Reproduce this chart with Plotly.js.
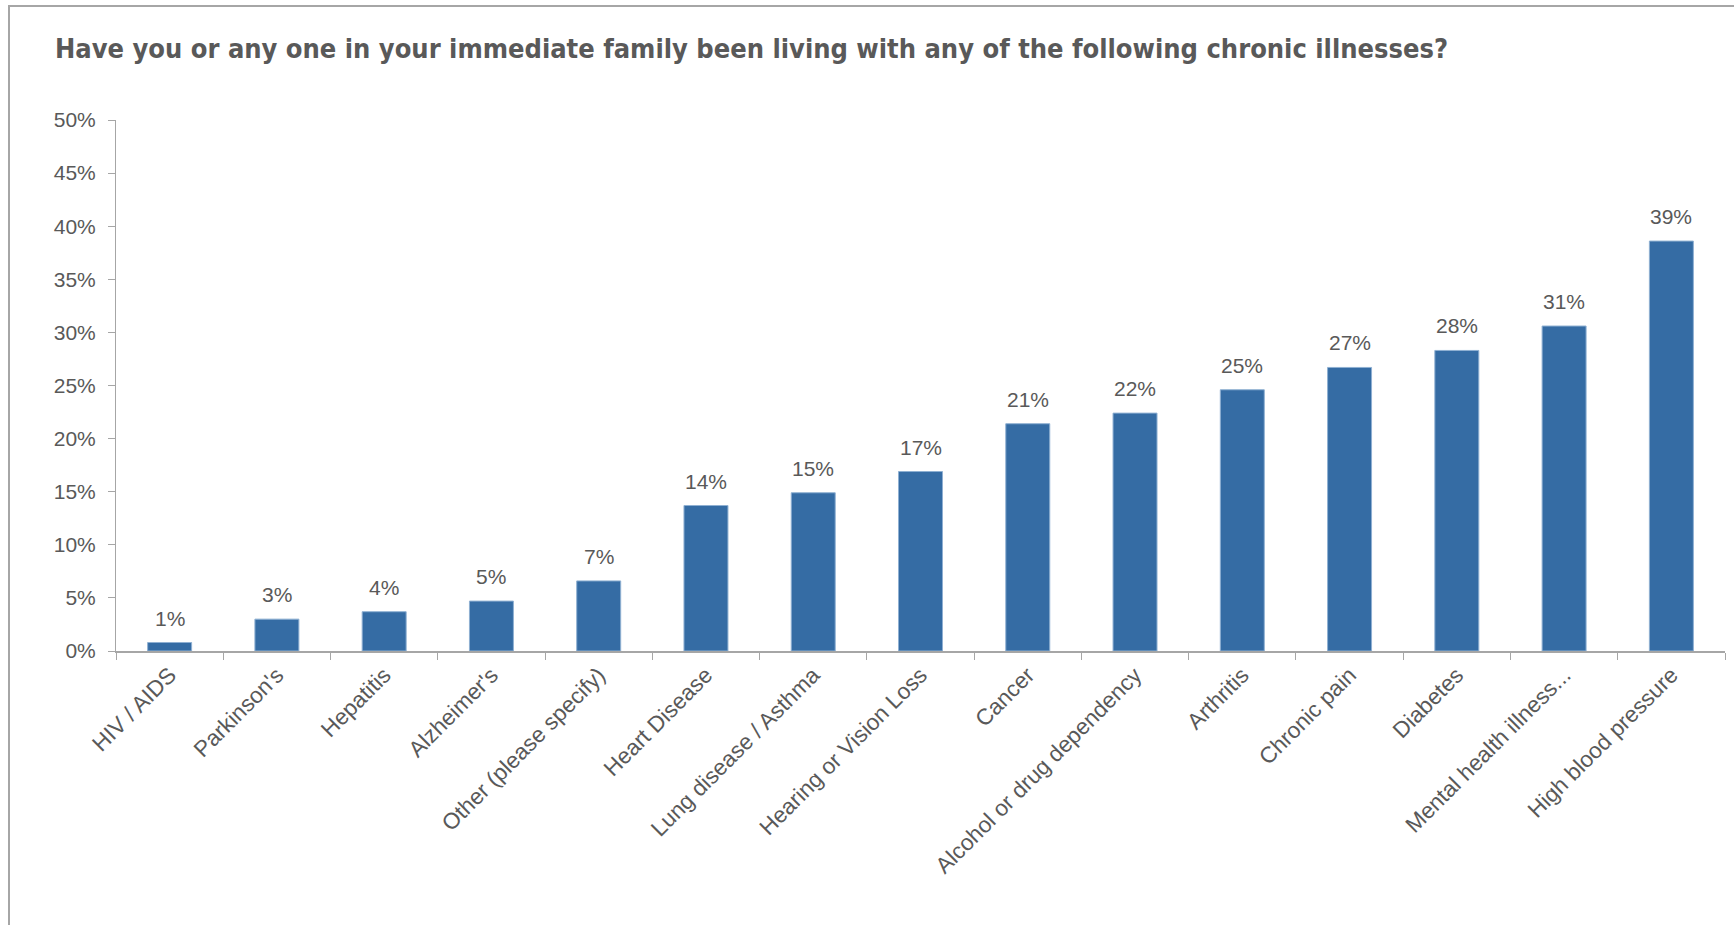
<!DOCTYPE html>
<html>
<head>
<meta charset="utf-8">
<script src="https://cdn.plot.ly/plotly-3.0.1.min.js"></script>
<style>
  html, body { margin: 0; padding: 0; background: #fff; }
  #wrap { position: relative; width: 1734px; height: 925px; overflow: hidden; }
  #chart { position: absolute; left: 0; top: 0; width: 1734px; height: 925px; }
  #frame { position: absolute; left: 8px; top: 5px; width: 1740px; height: 940px;
           border-left: 2px solid #a6a6a6; border-top: 2px solid #a6a6a6; pointer-events: none; }
</style>
</head>
<body>
<div id="wrap">
  <div id="chart"></div>
  <div id="frame"></div>
</div>
<script>
const categories = [
  "HIV / AIDS", "Parkinson's", "Hepatitis", "Alzheimer's", "Other (please specify)",
  "Heart Disease", "Lung disease / Asthma", "Hearing or Vision Loss", "Cancer",
  "Alcohol or drug dependency", "Arthritis", "Chronic pain", "Diabetes",
  "Mental health illness...", "High blood pressure"
];
const values = [0.008, 0.030, 0.037, 0.047, 0.066, 0.137, 0.149, 0.169, 0.214,
                0.224, 0.246, 0.267, 0.283, 0.306, 0.386];
const valueLabels = ["1%", "3%", "4%", "5%", "7%", "14%", "15%", "17%", "21%",
                     "22%", "25%", "27%", "28%", "31%", "39%"];
const yTickVals = [0, 0.05, 0.10, 0.15, 0.20, 0.25, 0.30, 0.35, 0.40, 0.45, 0.50];
const yTickText = ["0%", "5%", "10%", "15%", "20%", "25%", "30%", "35%", "40%", "45%", "50%"];
const titleText = "Have you or any one in your immediate family been living with any of the following chronic illnesses?";

const textColor = "#595959";
const axisColor = "#a6a6a6";
const baseFont = "Liberation Sans, Arial, sans-serif";

const trace = {
  type: "bar",
  x: categories,
  y: values,
  marker: { color: "#356ca4", line: { color: "#8fb0d2", width: 1 } },
  hoverinfo: "skip"
};

const annotations = categories.map((c, i) => ({
  x: c, y: values[i], xref: "x", yref: "y",
  text: valueLabels[i], showarrow: false,
  yanchor: "bottom", yshift: 11,
  font: { family: baseFont, size: 21, color: textColor }
}));

const layout = {
  width: 1734, height: 925,
  margin: { l: 116, r: 9, t: 120, b: 274, pad: 0 },
  paper_bgcolor: "#ffffff", plot_bgcolor: "#ffffff",
  showlegend: false,
  bargap: 0.59,
  title: {
    text: titleText,
    x: 55 / 1734, xanchor: "left", xref: "container",
    y: 1 - 49 / 925, yanchor: "middle", yref: "container",
    font: { family: "Liberation Sans Narrow, DejaVu Sans Condensed, Arial Narrow, sans-serif", size: 27, color: textColor, weight: "bold" }
  },
  xaxis: {
    type: "category",
    showline: true, linecolor: axisColor, linewidth: 2,
    ticks: "outside", tickson: "boundaries", ticklen: 7, tickcolor: axisColor, tickwidth: 1,
    tickangle: -45,
    tickfont: { family: baseFont, size: 22.5, color: textColor },
    showgrid: false, zeroline: false, fixedrange: true
  },
  yaxis: {
    range: [0, 0.5],
    tickvals: yTickVals, ticktext: yTickText,
    showline: true, linecolor: axisColor, linewidth: 1,
    ticks: "outside", ticklen: 7, tickcolor: axisColor, tickwidth: 1,
    ticklabelstandoff: 8,
    tickfont: { family: baseFont, size: 21, color: textColor },
    showgrid: false, zeroline: false, fixedrange: true
  },
  annotations: annotations
};

Plotly.newPlot("chart", [trace], layout, { displayModeBar: false, staticPlot: true });
</script>
</body>
</html>
